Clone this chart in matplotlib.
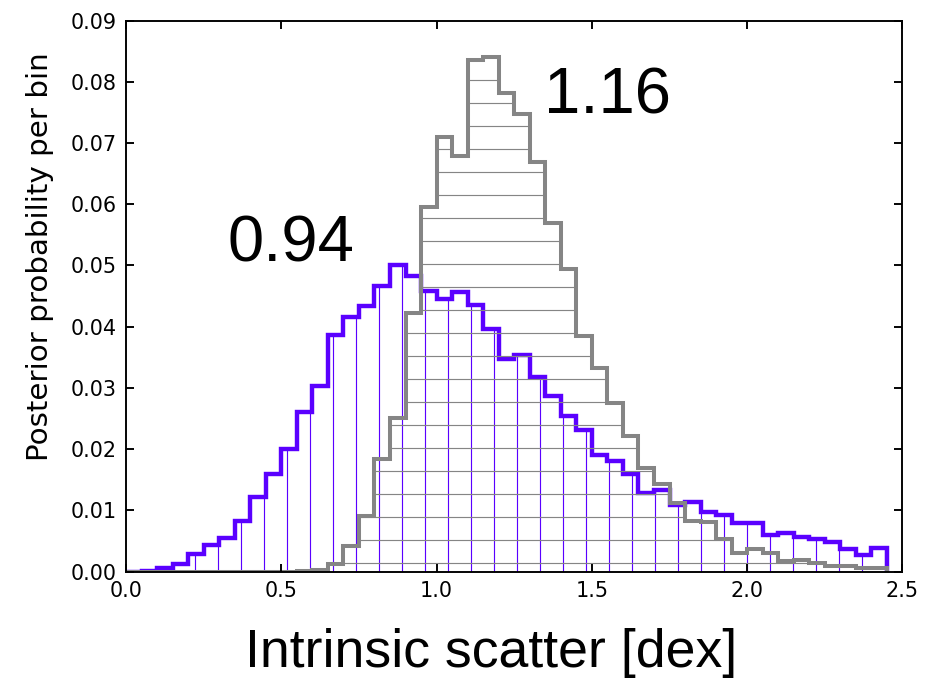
import numpy as np
import matplotlib
matplotlib.use("Agg")
import matplotlib.pyplot as plt

# bin edges of both histograms: 0.00 .. 2.45 in steps of 0.05
bin_edges = np.round(np.arange(0, 2.451, 0.05), 3)

# posterior probability per bin
purple_vals = [0.0, 0.0001, 0.0005, 0.0013, 0.0028, 0.0043, 0.0054, 0.0082, 0.0122, 0.0159,
               0.0200, 0.0260, 0.0303, 0.0387, 0.0416, 0.0434, 0.0466, 0.0501, 0.0483, 0.0458,
               0.0445, 0.0457, 0.0435, 0.0396, 0.0347, 0.0353, 0.0318, 0.0287, 0.0254, 0.0231,
               0.0190, 0.0180, 0.0159, 0.0129, 0.0133, 0.0108, 0.0114, 0.0098, 0.0093, 0.0080,
               0.0080, 0.0060, 0.0063, 0.0057, 0.0053, 0.0049, 0.0036, 0.0027, 0.0039]
gray_vals = [0.0, 0.0, 0.0, 0.0, 0.0, 0.0, 0.0, 0.0, 0.0, 0.0,
             0.0, 0.0001, 0.0002, 0.0012, 0.0041, 0.0090, 0.0183, 0.0250, 0.0422, 0.0595,
             0.0709, 0.0679, 0.0836, 0.0841, 0.0781, 0.0747, 0.0669, 0.0570, 0.0494, 0.0384,
             0.0333, 0.0276, 0.0221, 0.0169, 0.0143, 0.0112, 0.0082, 0.0081, 0.0053, 0.0031,
             0.0037, 0.0030, 0.0017, 0.0019, 0.0014, 0.0009, 0.0009, 0.0005, 0.0006]

purple_label = "0.94"
gray_label = "1.16"

plt.rcParams['hatch.linewidth'] = 0.6
plt.rcParams['axes.linewidth'] = 1.0

DPI = 138
fig = plt.figure(figsize=(944 / DPI, 678 / DPI), dpi=DPI)
ax = fig.add_axes([126 / 944, 1 - 571.5 / 678, 776.5 / 944, 551 / 678])

ax.stairs(purple_vals, bin_edges, baseline=0, fill=False, hatch='|',
          edgecolor='#5a00ff', linewidth=2.3)
ax.stairs(gray_vals, bin_edges, baseline=0, fill=False, hatch='-',
          edgecolor='#858585', linewidth=2.1)

ax.set_xlim(0, 2.5)
ax.set_ylim(0, 0.09)
ax.set_xticks(np.arange(0, 2.51, 0.5))
ax.set_yticks(np.arange(0, 0.0901, 0.01))
ax.tick_params(direction='in', top=True, right=True, length=4, width=1,
               labelsize=10.8, pad=5)

fig.text(40 / 944, 1 - 257 / 678, "Posterior probability per bin", rotation=90,
         ha='center', va='center', fontsize=15.3)
fig.text(491 / 944, 1 - 667 / 678, "Intrinsic scatter [dex]", ha='center',
         va='baseline', fontsize=28, family='Liberation Sans')

fig.text(228 / 944, 1 - 262 / 678, purple_label, ha='left', va='baseline',
         fontsize=34, family='Liberation Sans')
fig.text(544 / 944, 1 - 114 / 678, gray_label, ha='left', va='baseline',
         fontsize=34, family='Liberation Sans')

fig.savefig("out.png", dpi=DPI)
